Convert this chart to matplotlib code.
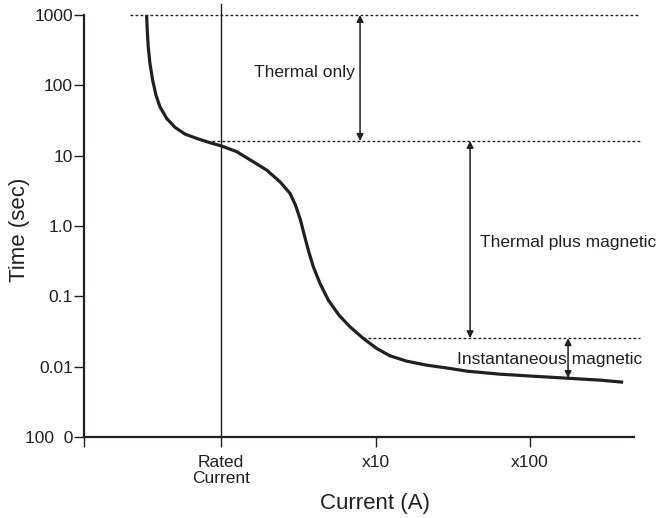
import matplotlib
matplotlib.use("Agg")
import matplotlib.pyplot as plt
from matplotlib.ticker import FixedLocator, NullLocator

plt.rcParams['font.family'] = ['Liberation Sans', 'DejaVu Sans']

INK = '#231f20'

# Trip curve (current as multiple of rated, time in seconds)
curve_current = [0.3304, 0.3334, 0.3384, 0.3471, 0.3613, 0.3796, 0.4029, 0.4452, 0.5038, 0.5848,
                 0.6963, 0.8487, 1.0105, 1.264, 1.618, 1.976, 2.409, 2.797, 3.035,
                 3.270, 3.461, 3.673, 3.957, 4.373, 4.949, 5.80, 6.839, 8.337, 10.18,
                 12.41, 15.92, 21.45, 30.35, 39.1, 63.9, 104.5, 173, 284, 400]
curve_time = [1000, 612, 354, 205.6, 119.0, 72.8, 49.6, 33.9, 25.3, 20.3,
              17.6, 15.3, 13.7, 11.4, 8.19, 6.24, 4.25, 2.91, 1.98,
              1.213, 0.742, 0.454, 0.263, 0.1526, 0.0883, 0.0540, 0.0368, 0.0252, 0.01815,
              0.01425, 0.01197, 0.0105, 0.00943, 0.00863, 0.00782, 0.00732, 0.00686, 0.00643, 0.00601]

# Boundary levels (seconds) and where the dotted lines start (current)
level_times = [1000, 16.2, 0.0254]
level_starts = [0.258, 0.875, 8.3]
level_end = 513

y_ticks = [1000, 100, 10, 1.0, 0.1, 0.01, 0.001]
y_labels = ['1000', '100', '10', '1.0', '0.1', '0.01', '100  0']
x_ticks = [0.13, 1, 10, 100]
x_labels = ['', 'Rated\nCurrent', 'x10', 'x100']

fig = plt.figure(figsize=(6.67, 5.18), dpi=100)
ax = fig.add_axes([84/667, 1 - 437/518, 550/667, 422/518])
ax.set_xscale('log')
ax.set_yscale('log')
ax.set_xlim(0.13, 470)
ax.set_ylim(0.001, 1000)

for s in ['top', 'right']:
    ax.spines[s].set_visible(False)
for s in ['left', 'bottom']:
    ax.spines[s].set_linewidth(1.6)
    ax.spines[s].set_color(INK)

ax.yaxis.set_major_locator(FixedLocator(y_ticks))
ax.set_yticklabels(y_labels)
ax.yaxis.set_minor_locator(NullLocator())
ax.xaxis.set_major_locator(FixedLocator(x_ticks))
ax.set_xticklabels(x_labels)
ax.xaxis.set_minor_locator(NullLocator())
ax.tick_params(axis='both', direction='out', length=7, width=1, color=INK,
               labelsize=12.5, labelcolor=INK)
ax.tick_params(axis='y', pad=1)
ax.tick_params(axis='x', pad=6)
for lbl in ax.get_xticklabels():
    lbl.set_linespacing(1.05)

ax.set_ylabel('Time (sec)', fontsize=16, color=INK)
ax.yaxis.set_label_coords((20 - 84) / 550, (437 - 230) / 422)
ax.set_xlabel('Current (A)', fontsize=16, color=INK)
ax.xaxis.set_label_coords((375 - 84) / 550, -(503 - 437) / 422)
ax.xaxis.label.set_va('center')
ax.yaxis.label.set_va('center')

# Rated current vertical line
ax.plot([1, 1], [0.001, 1433], color=INK, lw=1, clip_on=False)

# Curve
ax.plot(curve_current, curve_time, color=INK, lw=2.3, solid_capstyle='butt',
        solid_joinstyle='round', clip_on=False)

# Dotted levels
for t, x0 in zip(level_times, level_starts):
    ax.plot([x0, level_end], [t, t], color=INK, lw=1, dashes=(2, 1.6), clip_on=False)

arrow = dict(arrowstyle='<|-|>', color=INK, lw=1.1, mutation_scale=10,
             shrinkA=0, shrinkB=0)
ax.annotate('', xy=(7.94, 1000), xytext=(7.94, 16.2), arrowprops=arrow, annotation_clip=False)
ax.annotate('', xy=(40.9, 16.2), xytext=(40.9, 0.0254), arrowprops=arrow, annotation_clip=False)
ax.annotate('', xy=(176, 0.0254), xytext=(176, 0.0069), arrowprops=arrow, annotation_clip=False)

ax.text(7.3, 154, 'Thermal only', ha='right', va='center', fontsize=12.5, color=INK)
ax.text(47.5, 0.59, 'Thermal plus magnetic', ha='left', va='center', fontsize=12.5, color=INK)
ax.text(33.7, 0.0128, 'Instantaneous magnetic', ha='left', va='center', fontsize=12.5, color=INK)

fig.savefig('out.png', dpi=100)
